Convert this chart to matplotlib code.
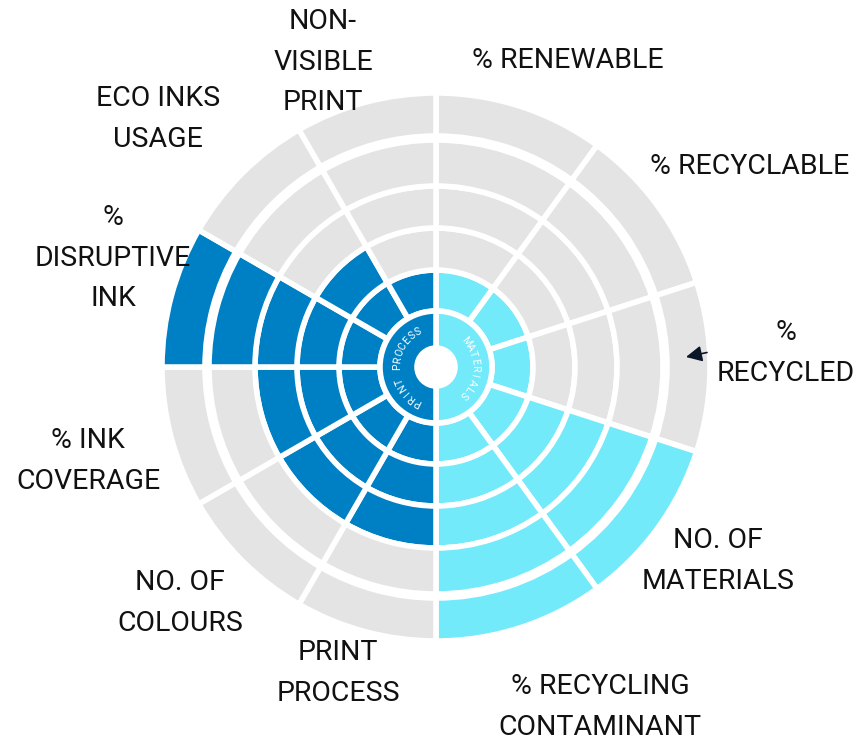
import numpy as np
import matplotlib.pyplot as plt

plt.rcParams['font.family'] = ['Roboto', 'DejaVu Sans']

# right half: materials (clockwise from top)
materials = ['% RENEWABLE', '% RECYCLABLE', '%\nRECYCLED', 'NO. OF\nMATERIALS',
             '% RECYCLING\nCONTAMINANT']
materials_score = [1, 1, 1, 5, 5]

# left half: print process (clockwise from bottom)
print_process = ['PRINT\nPROCESS', 'NO. OF\nCOLOURS', '% INK\nCOVERAGE',
                 '%\nDISRUPTIVE\nINK', 'ECO INKS\nUSAGE', 'NON-\nVISIBLE\nPRINT']
print_score = [3, 3, 3, 5, 2, 1]

n_rings = 5

# label centres in pixels (x, y from top)
materials_xy = [(568, 61), (750, 167), (786, 353), (718, 561), (600, 707)]
print_xy = [(338, 673), (180, 603), (88, 461), (113, 258), (158, 119), (323, 62)]

BLUE = '#0080C4'
CYAN = '#73EAFA'
GRAY = '#E4E4E4'

W, H = 861, 743
ring_edges = [56, 97, 139, 181, 227, 274]
hole = 19
outer_gap = 4
rmax = 280
cx, cy = 436, 367

fig = plt.figure(figsize=(W / 100, H / 100), dpi=100)
ax = fig.add_axes([(cx - rmax) / W, (H - cy - rmax) / H, 2 * rmax / W, 2 * rmax / H],
                  projection='polar')
ax.set_theta_zero_location('N')
ax.set_theta_direction(-1)
ax.set_ylim(0, rmax)
ax.set_axis_off()


def draw_half(scores, start, color):
    n = len(scores)
    width = np.pi / n
    thetas = np.deg2rad(start) + width * (np.arange(n) + 0.5)
    for j in range(n_rings):
        bottom = ring_edges[j] + (outer_gap if j == n_rings - 1 else 0)
        height = ring_edges[j + 1] - bottom
        colors = [color if j < s else GRAY for s in scores]
        ax.bar(thetas, height, width=width, bottom=bottom, color=colors,
               edgecolor='white', linewidth=4)
    # inner label ring
    ax.bar([np.deg2rad(start + 90)], ring_edges[0] - hole, width=np.pi, bottom=hole,
           color=color, edgecolor='white', linewidth=4)


draw_half(materials_score, 0, CYAN)
draw_half(print_score, 180, BLUE)


def curved(text, center_deg, r, step=10.5):
    start = center_deg - step * (len(text) - 1) / 2
    for k, ch in enumerate(text):
        th = start + k * step
        ax.text(np.deg2rad(th), r, ch, rotation=-th, rotation_mode='anchor',
                ha='center', va='center', color='white', fontsize=7.5)


curved('MATERIALS', 92, 39)
curved('PRINT PROCESS', 270, 39)

for labels, xy in [(materials, materials_xy), (print_process, print_xy)]:
    for lab, (x, y) in zip(labels, xy):
        fig.text(x / W, 1 - y / H, lab, ha='center', va='center', fontsize=20.5,
                 linespacing=1.65, multialignment='center', color='#111111')

# stray arrow next to % RECYCLED
fig.add_artist(plt.Annotation('', xy=(686 / W, 1 - 357 / H), xycoords='figure fraction',
                              xytext=(707 / W, 1 - 352.5 / H), textcoords='figure fraction',
                              arrowprops=dict(arrowstyle='-|>', color='#0a1628', lw=1.2,
                                              mutation_scale=24, shrinkA=0, shrinkB=0)))

fig.savefig('out.png', dpi=100)
